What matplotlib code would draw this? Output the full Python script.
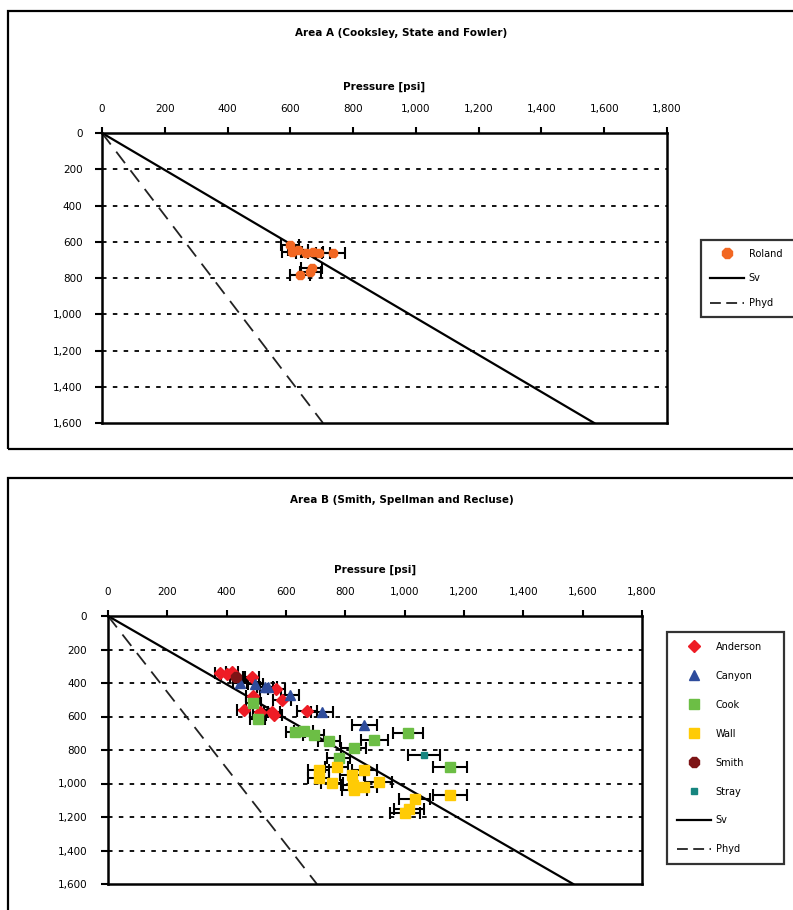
import matplotlib
matplotlib.use("Agg")
import matplotlib.pyplot as plt
from matplotlib.patches import Rectangle
from matplotlib.lines import Line2D
from matplotlib.ticker import FuncFormatter, MultipleLocator
import numpy as np

plt.rcParams['font.family'] = ['DejaVu Sans']

# ---------------- data ----------------
title_a = "Area A (Cooksley, State and Fowler)"
title_b = "Area B (Smith, Spellman and Recluse)"
xlabel = "Pressure [psi]"

sv_gradient = 0.98     # psi/ft
phyd_gradient = 0.44   # psi/ft
depth_max = 1600
err_frac = 0.05

roland_p = [599, 605, 624, 650, 672, 692, 737, 669, 663, 631]
roland_d = [618, 657, 646, 662, 657, 662, 662, 745, 767, 783]

anderson_p = [378, 400, 417, 485, 567, 488, 586, 457, 513, 552, 560, 670]
anderson_d = [338, 346, 332, 366, 438, 478, 501, 561, 571, 571, 591, 567]
canyon_p = [445, 496, 530, 541, 614, 721, 864]
canyon_d = [402, 408, 422, 422, 472, 575, 651]
cook_p = [490, 504, 631, 659, 693, 744, 828, 898, 1010, 777, 1152]
cook_d = [521, 617, 691, 685, 710, 744, 786, 740, 700, 850, 903]
wall_p = [710, 710, 771, 755, 822, 864, 826, 830, 862, 913, 1034, 1152, 1014, 1002]
wall_d = [919, 969, 903, 995, 949, 919, 1009, 1039, 1023, 993, 1093, 1069, 1154, 1174]
smith_p = [432]
smith_d = [366]
stray_p = [1066]
stray_d = [830]

W, H = 793, 910
fig = plt.figure(figsize=(W / 100, H / 100), dpi=100)


def fx(px):
    return px / W


def fy(py):
    return 1 - py / H


# outer frames
fig.add_artist(Rectangle((fx(8), fy(449)), fx(830) - fx(8), fy(11) - fy(449),
                         transform=fig.transFigure, fill=False, lw=1.6,
                         ec='black', clip_on=False))
fig.add_artist(Rectangle((fx(8), fy(960)), fx(830) - fx(8), fy(478) - fy(960),
                         transform=fig.transFigure, fill=False, lw=1.6,
                         ec='black', clip_on=False))

fmt = FuncFormatter(lambda v, p: f"{int(v):,}")
ebkw = dict(ecolor='black', elinewidth=1.5, capsize=4, capthick=1.5,
            linestyle='none')


def setup(ax, xpad, ypad):
    ax.set_xlim(0, 1800)
    ax.set_ylim(depth_max, 0)
    ax.xaxis.tick_top()
    ax.xaxis.set_label_position('top')
    ax.xaxis.set_major_locator(MultipleLocator(200))
    ax.yaxis.set_major_locator(MultipleLocator(200))
    ax.xaxis.set_major_formatter(fmt)
    ax.yaxis.set_major_formatter(fmt)
    ax.tick_params(axis='x', direction='out', length=4, width=1.5,
                   pad=xpad, labelsize=7.5, colors='black')
    ax.tick_params(axis='y', direction='out', length=5, width=1.5,
                   pad=ypad, labelsize=7.5, colors='black')
    for s in ax.spines.values():
        s.set_linewidth(1.8)
    ax.set_axisbelow(True)
    for d in range(200, depth_max, 200):
        ax.axhline(d, color='black', lw=1.3, ls=(0, (2.5, 3.5)), zorder=0.5)


def lines(ax):
    dd = np.array([0, depth_max])
    ax.plot(dd * sv_gradient, dd, color='black', lw=1.6, zorder=2)
    ax.plot(dd * phyd_gradient, dd, color='#222222', lw=1.3,
            ls=(0, (8, 5)), zorder=2)


# ---------------- Area A ----------------
ax1 = fig.add_axes([fx(102), fy(423), fx(667) - fx(102), fy(133) - fy(423)])
setup(ax1, 10, 9)
lines(ax1)
ax1.errorbar(roland_p, roland_d, xerr=np.array(roland_p) * err_frac,
             marker='8', ms=7, mfc='#F26722', mec='#F26722', zorder=3, **ebkw)
ax1.set_xlabel(xlabel, fontsize=7.5, fontweight='bold', labelpad=10)
fig.text(fx(401), fy(33), title_a, ha='center', va='center', fontsize=7.5,
         fontweight='bold')

h1 = [Line2D([], [], marker='8', ms=8, color='#F26722', ls='none'),
      Line2D([], [], color='black', lw=1.6),
      Line2D([], [], color='#222222', lw=1.3, ls=(0, (6, 3)))]
leg1 = fig.legend(h1, ['Roland', 'Sv', 'Phyd'], loc='upper left',
                  bbox_to_anchor=(fx(701), fy(240), fx(820) - fx(701), 0.0),
                  bbox_transform=fig.transFigure, mode='expand',
                  borderaxespad=0.0,
                  fontsize=7, frameon=True, fancybox=False, borderpad=0.9,
                  labelspacing=1.5, handlelength=3.5, handletextpad=0.5)
leg1.get_frame().set_edgecolor('black')
leg1.get_frame().set_linewidth(1.6)

# ---------------- Area B ----------------
ax2 = fig.add_axes([fx(108), fy(884), fx(642) - fx(108), fy(616) - fy(884)])
setup(ax2, 10, 10)
lines(ax2)
series = [
    (anderson_p, anderson_d, 'D', 6, '#EE1C25'),
    (canyon_p, canyon_d, '^', 7, '#2E4C9C'),
    (cook_p, cook_d, 's', 6.5, '#6CBE45'),
    (wall_p, wall_d, 's', 7, '#FFCB05'),
    (smith_p, smith_d, '8', 8, '#7D1416'),
    (stray_p, stray_d, 's', 5, '#16857F'),
]
for p, d, m, ms, c in series:
    ax2.errorbar(p, d, xerr=np.array(p) * err_frac, marker=m, ms=ms,
                 mfc=c, mec=c, zorder=3, **ebkw)
ax2.set_xlabel(xlabel, fontsize=7.5, fontweight='bold', labelpad=10)
fig.text(fx(402), fy(500), title_b, ha='center', va='center', fontsize=7.5,
         fontweight='bold')

names = ['Anderson', 'Canyon', 'Cook', 'Wall', 'Smith', 'Stray', 'Sv', 'Phyd']
h2 = [Line2D([], [], marker=m, ms=ms, color=c, ls='none')
      for _, _, m, ms, c in series]
h2 += [Line2D([], [], color='black', lw=1.6),
       Line2D([], [], color='#222222', lw=1.3, ls=(0, (6, 3)))]
leg2 = fig.legend(h2, names, loc='upper left',
                  bbox_to_anchor=(fx(667), fy(632), fx(784) - fx(667), 0.0),
                  bbox_transform=fig.transFigure, mode='expand',
                  borderaxespad=0.0,
                  fontsize=7, frameon=True, fancybox=False, borderpad=1.0,
                  labelspacing=1.95, handlelength=3.5, handletextpad=0.5)
leg2.get_frame().set_edgecolor('black')
leg2.get_frame().set_linewidth(1.6)

fig.savefig('out.png', dpi=100)
